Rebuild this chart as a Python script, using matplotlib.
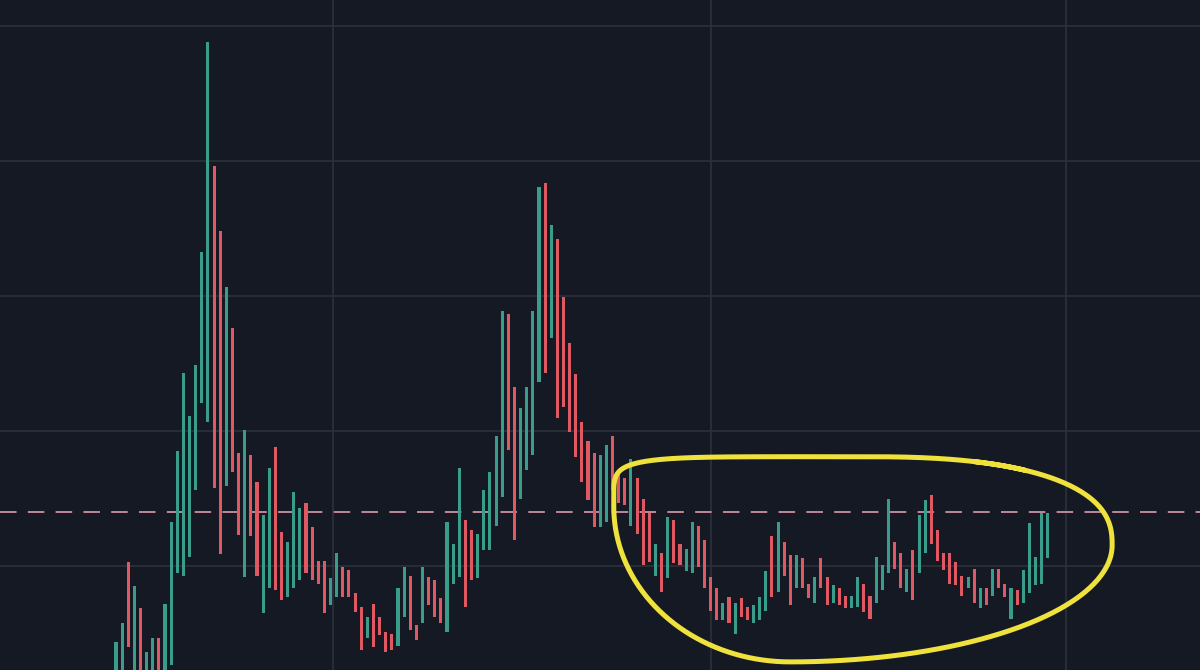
import numpy as np
import matplotlib
matplotlib.use("Agg")
import matplotlib.pyplot as plt

# candle bodies (price units, 10 per grid line)
opens = [-8.5, -8.5, 0.3, -8.5, -3.1, -8.5, -8.5, -5.3, -8.5, -7.3,
         -0.5, -0.7, 0.7, 5.6, 12.1, 10.7, 29.6, 24.8, 5.9, 17.6,
         8.4, -0.8, 8.2, 6.2, -3.5, -1.6, 8.8, 2.5, -2.3, -1.6,
         -1.0, 4.7, 2.9, 0.4, 0.4, -2.9, -2.3, -0.1, -0.3, -2.0,
         -3.0, -5.3, -2.8, -3.8, -4.9, -5.0, -5.9, -3.8, -0.7, -4.4,
         -4.2, -0.8, -1.0, -2.4, -4.9, -1.3, -0.8, 3.4, 2.7, -0.9,
         1.2, 1.2, 3.0, 5.1, 18.7, 13.3, 5.0, 7.1, 8.2, 13.6,
         28.4, 16.9, 24.2, 19.9, 16.5, 14.2, 10.7, 9.3, 8.4, 2.9,
         3.3, 9.6, 7.1, 6.5, 3.0, 6.5, 5.0, 3.9, -0.7, 1.0,
         -0.9, 3.4, 1.6, -0.4, -0.5, 3.0, 1.9, -0.8, -1.6, -4.0,
         -2.3, -5.0, -2.4, -3.0, -4.2, -4.0, -3.3, 2.2, -1.9, 1.8,
         0.8, -1.6, 0.6, -1.3, -2.7, 0.6, -0.8, -2.7, -1.6, -2.2,
         -3.1, -3.0, -1.3, -2.2, -2.7, -1.8, -0.5, 1.8, 1.0, -1.9,
         1.2, -0.5, 1.0, 5.3, 2.7, 1.0, 1.0, 0.3, -0.7, -1.6,
         -0.2, -3.1, -1.6, -2.2, -0.2, -1.3, -3.9, -1.8, -2.7, -2.0,
         -1.4, -1.3, 0.6]
closes = [-5.6, -4.2, -6.0, -1.5, -8.5, -6.4, -5.3, -8.5, -2.8, 3.3,
          8.5, 14.3, 11.1, 14.9, 23.3, 38.8, 5.8, 0.9, 20.7, 7.0,
          2.3, 10.1, 2.2, -0.7, 3.8, 7.3, -1.8, -2.5, 1.8, 5.5,
          4.3, -0.5, -1.0, -1.3, -3.5, -0.9, 1.0, -2.3, -2.3, -3.4,
          -6.2, -3.8, -6.0, -5.1, -6.4, -6.2, -1.6, -0.1, -4.7, -5.5,
          -0.1, -2.9, -3.8, -4.2, 3.3, 1.6, 7.3, -3.0, -1.0, 2.4,
          5.6, 7.0, 9.6, 18.9, 8.6, 1.9, 11.7, 13.3, 18.9, 28.1,
          14.3, 25.3, 11.0, 11.8, 9.9, 8.1, 6.2, 4.9, 2.9, 8.2,
          9.0, 5.6, 4.7, 4.5, 7.9, 2.4, 0.1, 0.3, 1.6, -1.9,
          3.6, 0.2, 0.1, 1.3, 3.3, -0.1, -1.6, -3.3, -4.0, -2.7,
          -4.2, -2.7, -3.8, -4.0, -2.9, -2.3, -0.4, -2.3, 3.3, -0.7,
          -2.9, 0.8, -1.6, -2.4, -0.8, -1.6, -2.9, -1.4, -2.9, -3.1,
          -2.2, -0.8, -3.4, -3.9, 0.7, 0.1, 5.0, -0.2, -1.6, -0.2,
          -2.5, 3.8, 4.9, 1.6, 0.4, -0.3, -1.3, -1.4, -2.2, -0.8,
          -2.7, -1.6, -2.9, -0.2, -1.6, -2.3, -1.6, -2.9, -0.3, 3.2,
          0.7, 3.9, 3.9]
month_starts = [35.4, 97.1, 155.0]
price_grid = [0, 10, 20, 30, 40]
level = 4.0

BG = "#151924"
UP = "#3a9c8a"
DOWN = "#df5862"

opens = np.array(opens)
closes = np.array(closes)
x = np.arange(len(opens))
cols = np.where(closes >= opens, UP, DOWN)

fig = plt.figure(figsize=(12, 6.7), dpi=100, facecolor=BG)
ax = fig.add_axes([0, 0, 1, 1])
ax.set_facecolor(BG)

ax.bar(x, closes - opens, bottom=opens, width=0.5, color=cols, linewidth=0, zorder=3)

ax.axhline(level, color="#c08899", lw=1.4, dashes=(8.5, 5.8), zorder=2)

ax.set_xlim(-18.92, 176.83)
ax.set_ylim(-7.7, 41.93)
ax.set_xticks(month_starts)
ax.set_yticks(price_grid)
ax.grid(True, color="#2c303c", lw=1.2, zorder=0)
ax.tick_params(length=0, labelbottom=False, labelleft=False)
for s in ax.spines.values():
    s.set_visible(False)

# hand drawn loop around the range, four quarter curves
def quarter(xc, yc, a, b, n, sx, sy, t0, t1):
    t = np.linspace(t0, t1, 80)
    qx = xc + sx * a * np.abs(np.cos(t)) ** (2.0 / n)
    qy = yc + sy * b * np.abs(np.sin(t)) ** (2.0 / n)
    return qx, qy

h = np.pi / 2
parts = [
    quarter(121.9, 1.56, 40.6, 6.54, 2.5, 1, 1, 1.2, 0),
    quarter(110.0, 1.56, 52.5, 8.66, 2, 1, -1, 0, h),
    quarter(110.0, 4.4, 28.8, 11.5, 2, -1, -1, h, 0),
    quarter(121.9, 4.4, 40.7, 3.7, 6, -1, 1, 0, h),
    quarter(121.9, 1.56, 40.6, 6.54, 2.5, 1, 1, h, 0.95),
]
lx = np.concatenate([p[0] for p in parts])
ly = np.concatenate([p[1] for p in parts])
ax.plot(lx, ly, color="#f0e23c", lw=3.6, solid_capstyle="round", zorder=5)

fig.savefig("out.png", dpi=100, facecolor=BG)
